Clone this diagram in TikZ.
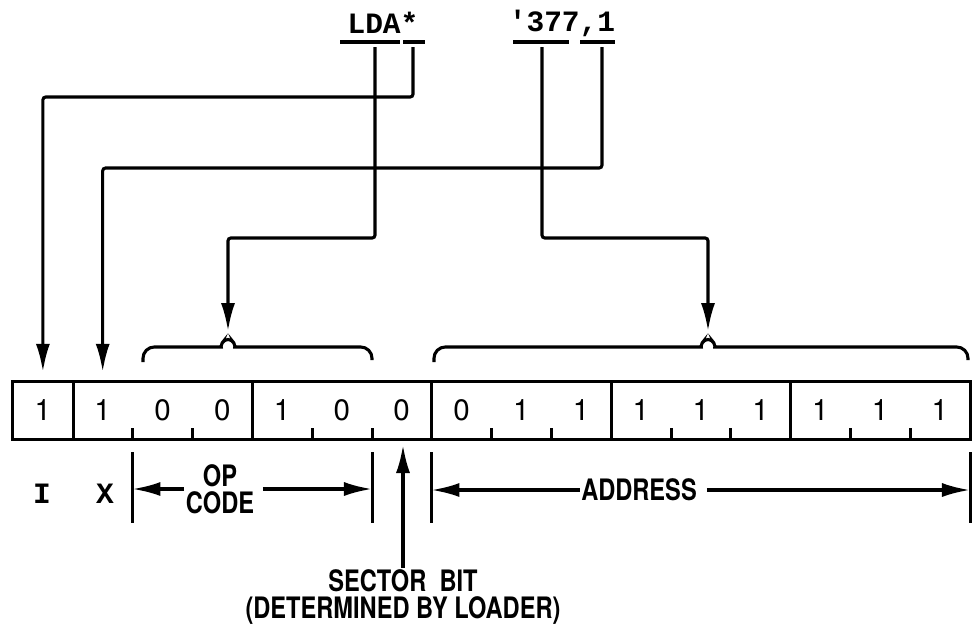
\documentclass[tikz,border=0pt]{standalone}
\usepackage{fontspec}
\setmainfont{TeX Gyre Heros}
\newfontfamily\lblfont[FakeStretch=0.8]{TeX Gyre Heros}
\newfontfamily\codefont{Liberation Mono}
\usetikzlibrary{arrows.meta, calc, positioning}

\begin{document}
\begin{tikzpicture}[
  x=0.025cm, y=-0.025cm,
  > = {Latex[length=20pt,width=10pt]},
  reg/.style = {line width=2.2pt},
  conn/.style = {line width=2.2pt, rounded corners=2pt},
  brc/.style = {line width=2.2pt, rounded corners=8pt},
  bit/.style = {minimum width=1.495cm, minimum height=1.425cm, inner sep=0pt, font=\fontsize{21}{21}\selectfont},
  lbl/.style = {font=\lblfont\bfseries\fontsize{21}{19}\selectfont, align=center, inner sep=1pt},
  code/.style = {font=\codefont\bfseries\fontsize{21}{21}\selectfont, inner sep=0pt}
  ]
  \useasboundingbox (0,0) rectangle (972,633);
  \foreach \b [count=\k from 0] in {1,1,0,0,1,0,0,0,1,1,1,1,1,1,1,1}
    \node[bit] (b\k) at ({13+59.8*(\k+0.5)},410.5) {\b};
  \draw[reg] (b0.north west) rectangle (b15.south east);
  \foreach \k in {0,3,6,9,12}
    \draw[reg] (b\k.north east) -- (b\k.south east);
  \foreach \k in {1,2,4,5,7,8,10,11,13,14}
    \draw[reg] (b\k.south east) -- ++(0,-11);
  \node[code] (lda) at (383,23) {LDA*};
  \node[code] (adr) at (562,23) {'377,1};
  \draw[reg] (340,42) -- (400,42) (403,42) -- (425,42) (513,42) -- (569,42) (580,42) -- (615,42);
  \coordinate (opsrc) at (375,47);
  \coordinate (ind) at (413,47);
  \coordinate (addsrc) at (542,47);
  \coordinate (xsrc) at (602,47);
  \coordinate (optip) at (228,334);
  \coordinate (adtip) at (708,334);
  \draw[brc] (143,362) -- (143,347) -- (210,347) .. controls (220,347) and (224,340) .. (optip) .. controls (232,340) and (236,347) .. (246,347) -- (372,347) -- (372,360);
  \draw[brc] (434,362) -- (434,347) -- (690,347) .. controls (700,347) and (704,340) .. (adtip) .. controls (712,340) and (716,347) .. (726,347) -- (968,347) -- (968,360);
  \draw[conn,->,shorten >=7pt] (ind) -- ++(0,50) -| (b0.north);
  \draw[conn,->,shorten >=7pt] (xsrc) -- ++(0,121) -| (b1.north);
  \draw[conn,->,shorten >=2pt] (opsrc) -- ++(0,191) -| (optip);
  \draw[conn,->,shorten >=2pt] (addsrc) -- ++(0,191) -| (adtip);
  \node[code] (ilbl) at (42,494) {I};
  \node[code] (xlbl) at (105,494) {X};
  \foreach \n in {b2.south west, b5.south east, b7.south west, b15.south east}
    \draw[reg] ($(\n)+(0,13)$) -- ++(0,71);
  \node[lbl] (opcode) at (220,489) {OP\\CODE};
  \draw[conn,->] (opcode.west) -- (opcode.west -| b2.south west);
  \draw[conn,->] ([xshift=5pt]opcode.east) -- (opcode.east -| b5.south east);
  \node[lbl] (addr) at (639,490) {ADDRESS};
  \draw[conn,->] (addr.west) -- (addr.west -| b7.south west);
  \draw[conn,->] ([xshift=6pt]addr.east) -- (addr.east -| b15.south east);
  \node[lbl] (sector) at (403,597) {SECTOR\ \ BIT\\(DETERMINED BY LOADER)};
  \draw[conn,->,shorten >=4pt] (sector.north) -- (sector.north |- b6.south);
\end{tikzpicture}
\end{document}
